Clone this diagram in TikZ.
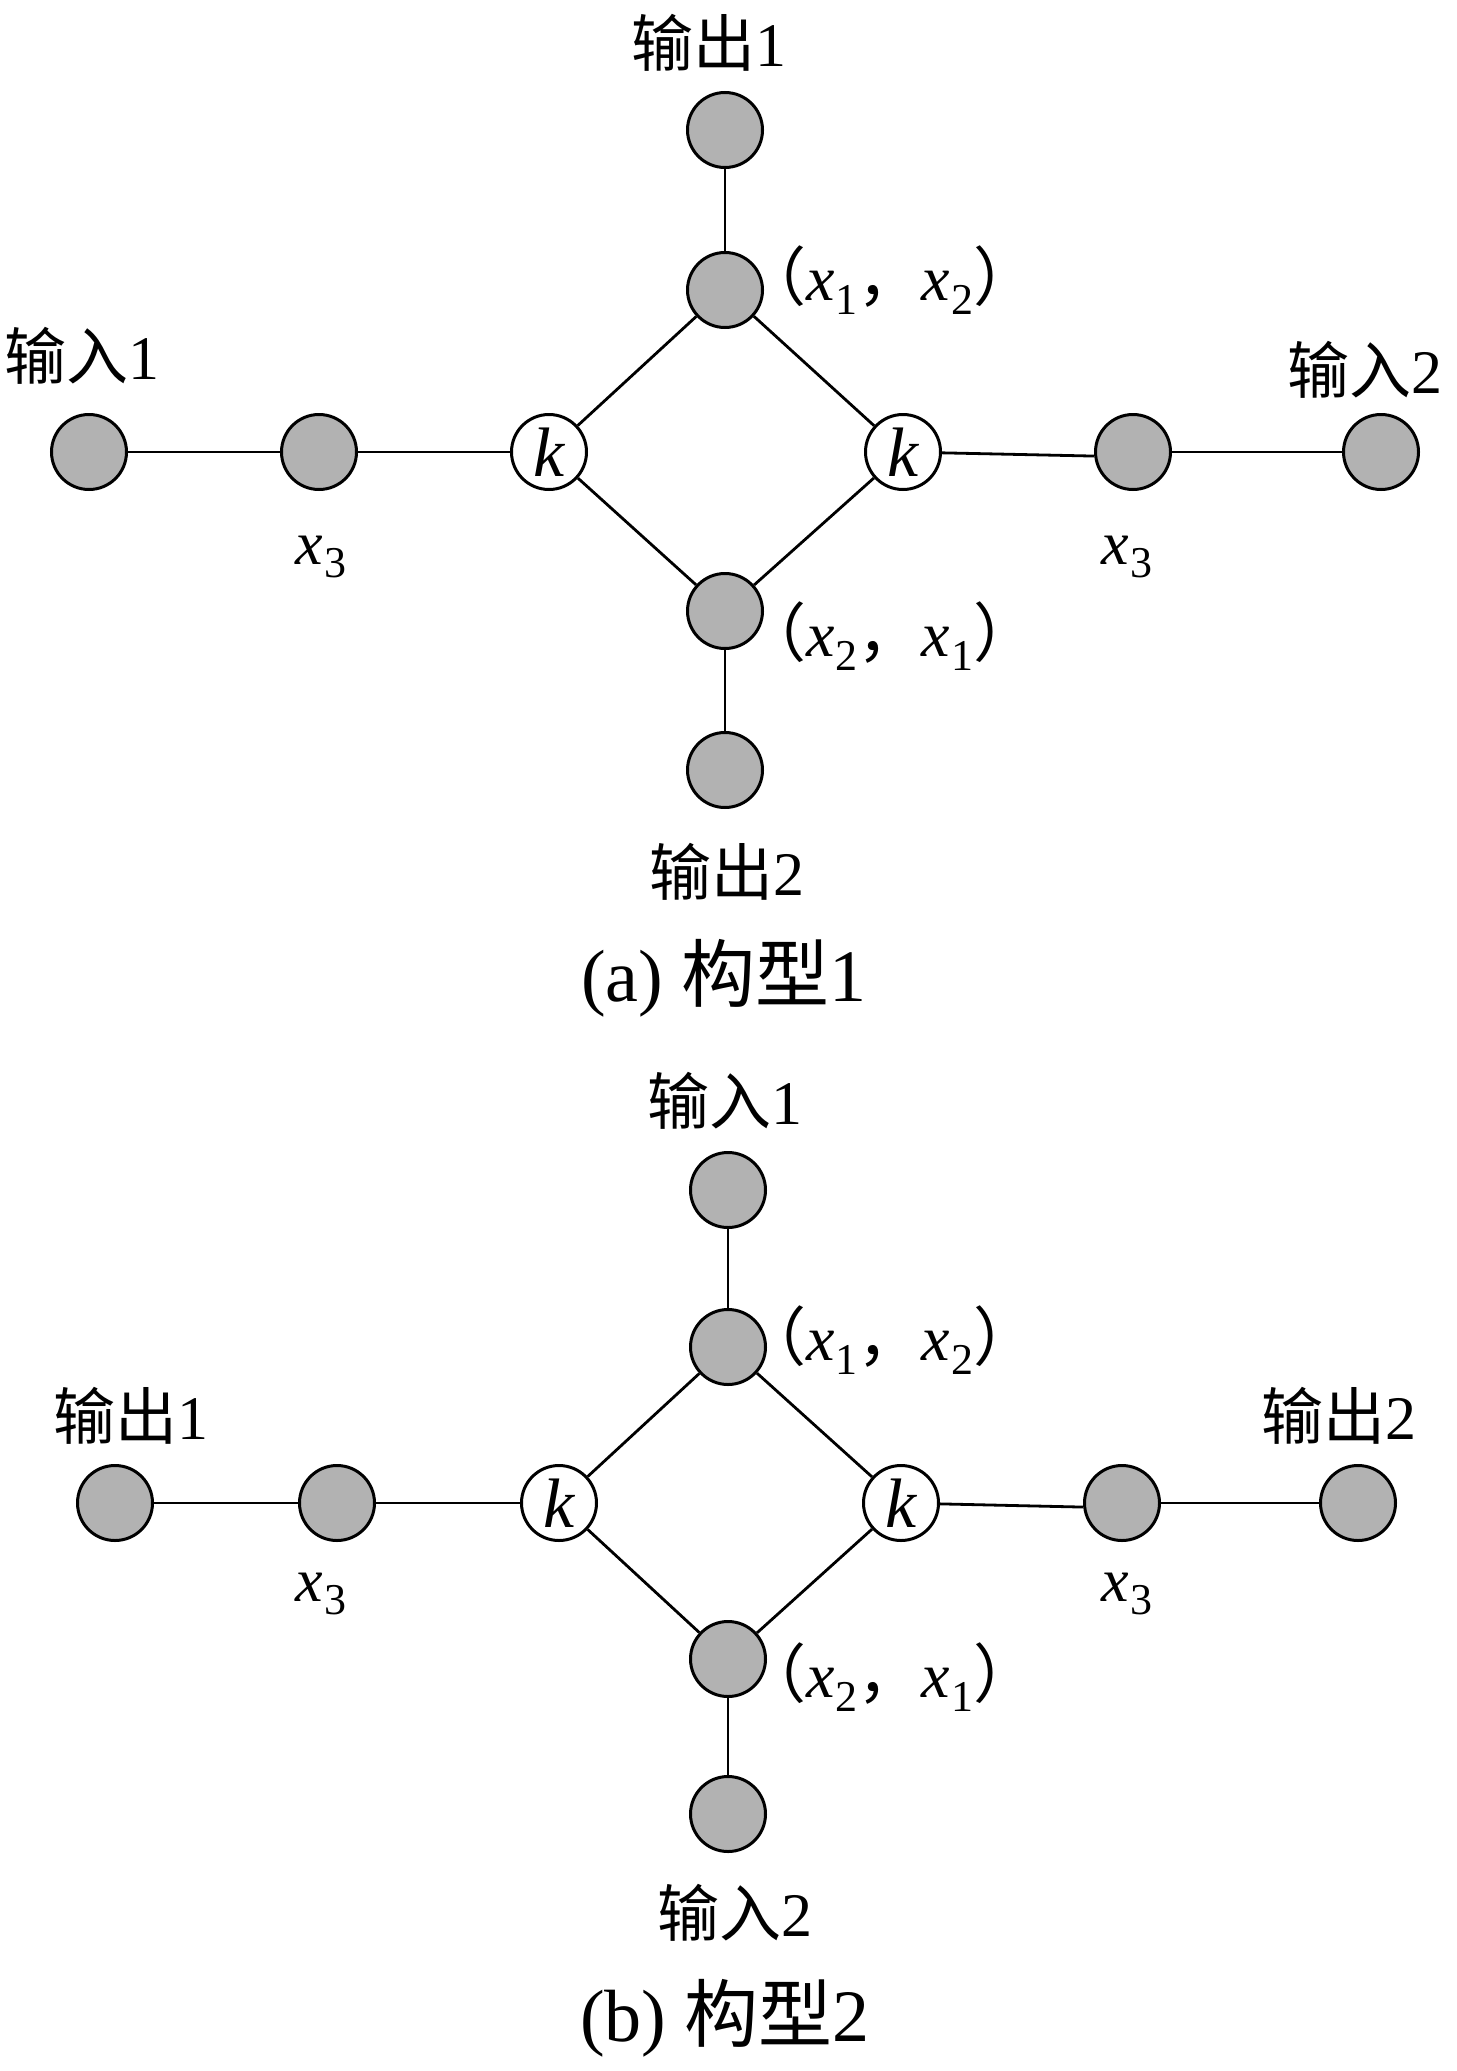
\documentclass[tikz,border=0pt]{standalone}
\usepackage{fontspec}
\setmainfont{Liberation Serif}
\newfontfamily\cjk{Noto Sans CJK SC}
\newcommand\xsub[1]{\textit{x}\kern1pt\raisebox{-0.22em}{\fontsize{44}{44}\selectfont #1}}
\newcommand\pairlbl[2]{{\cjk （}\xsub{#1}{\cjk ，}\xsub{#2}{\cjk ）}}
\tikzset{
  gnode/.style={circle, draw, line width=3pt, fill=black!30, minimum size=75pt, inner sep=0pt},
  knode/.style={circle, draw, line width=3pt, fill=white, minimum size=75pt, inner sep=0pt, font=\fontsize{70}{72}\selectfont\itshape},
  lbl/.style={inner sep=0pt, font=\fontsize{62}{68}\selectfont},
  pairtxt/.style={inner sep=0pt, anchor=west, font=\fontsize{64}{70}\selectfont},
  captxt/.style={inner sep=0pt, font=\fontsize{74}{80}\selectfont},
  edge/.style={line width=2.8pt}
}
\begin{document}
\begin{tikzpicture}[x=1pt,y=-1pt]
\useasboundingbox[fill=white] (0,0) rectangle (1456,2071);
% ---------- panel (a) ----------
\node[gnode] (a1) at (89,452) {};
\node[gnode] (a2) at (319,452) {};
\node[knode] (ak1) at (549,452) {k};
\node[knode] (ak2) at (903,452) {k};
\node[gnode] (a3) at (1133,452) {};
\node[gnode] (a4) at (1381,452) {};
\node[gnode] (atop) at (725,130) {};
\node[gnode] (aup) at (725,290) {};
\node[gnode] (adn) at (725,611) {};
\node[gnode] (abot) at (725,770) {};
\draw[edge] (a1) -- (a2);
\draw[edge] (a2) -- (ak1);
\draw[edge] (ak2) -- (a3.186);
\draw[edge] (a3) -- (a4);
\draw[edge] (atop) -- (aup);
\draw[edge] (aup) -- (ak1);
\draw[edge] (aup) -- (ak2);
\draw[edge] (adn) -- (ak1);
\draw[edge] (adn) -- (ak2);
\draw[edge] (adn) -- (abot);
\node[lbl] (la1) at (709,43) {{\cjk 输出}1};
\node[lbl] (la2) at (82,356) {{\cjk 输入}1};
\node[lbl] (la3) at (1365,370) {{\cjk 输入}2};
\node[lbl] (la4) at (727,872) {{\cjk 输出}2};
\node[captxt] (lacap) at (724,978) {(a)\ {\cjk 构型}1};
\node[lbl] (lax1) at (321,557) {\xsub{3}};
\node[lbl] (lax2) at (1127,557) {\xsub{3}};
\node[pairtxt] (lap1) at (742,280) {\pairlbl{1}{2}};
\node[pairtxt] (lap2) at (742,636) {\pairlbl{2}{1}};
% ---------- panel (b) ----------
\node[gnode] (b1) at (115,1503) {};
\node[gnode] (b2) at (337,1503) {};
\node[knode] (bk1) at (559,1503) {k};
\node[knode] (bk2) at (901,1503) {k};
\node[gnode] (b3) at (1122,1503) {};
\node[gnode] (b4) at (1358,1503) {};
\node[gnode] (btop) at (728,1190) {};
\node[gnode] (bup) at (728,1347) {};
\node[gnode] (bdn) at (728,1659) {};
\node[gnode] (bbot) at (728,1814) {};
\draw[edge] (b1) -- (b2);
\draw[edge] (b2) -- (bk1);
\draw[edge] (bk2) -- (b3.186);
\draw[edge] (b3) -- (b4);
\draw[edge] (btop) -- (bup);
\draw[edge] (bup) -- (bk1);
\draw[edge] (bup) -- (bk2);
\draw[edge] (bdn) -- (bk1);
\draw[edge] (bdn) -- (bk2);
\draw[edge] (bdn) -- (bbot);
\node[lbl] (lb1) at (725,1101) {{\cjk 输入}1};
\node[lbl] (lb2) at (131,1416) {{\cjk 输出}1};
\node[lbl] (lb3) at (1339,1416) {{\cjk 输出}2};
\node[lbl] (lb4) at (735,1913) {{\cjk 输入}2};
\node[captxt] (lbcap) at (725,2018) {(b)\ {\cjk 构型}2};
\node[lbl] (lbx1) at (321,1594) {\xsub{3}};
\node[lbl] (lbx2) at (1127,1594) {\xsub{3}};
\node[pairtxt] (lbp1) at (742,1340) {\pairlbl{1}{2}};
\node[pairtxt] (lbp2) at (742,1677) {\pairlbl{2}{1}};
\end{tikzpicture}
\end{document}
